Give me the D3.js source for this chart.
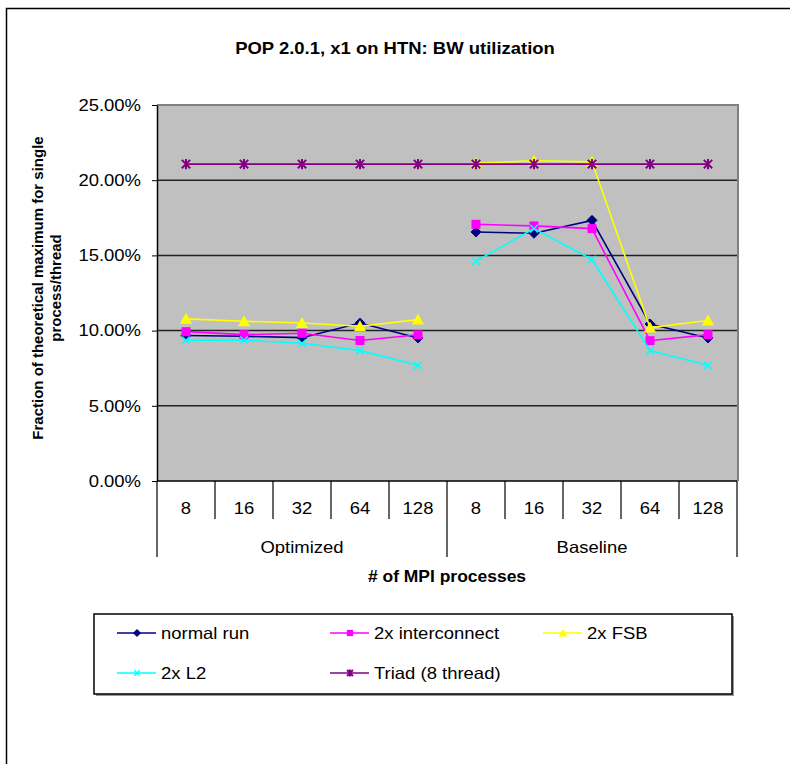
<!DOCTYPE html>
<html>
<head>
<meta charset="utf-8">
<script src="https://cdn.jsdelivr.net/npm/d3@7"></script>
<style>
  body { margin: 0; background: #fff; }
  text { font-family: "Liberation Sans", Arial, sans-serif; }
</style>
</head>
<body>
<script>
// categories
let groups = ["Optimized", "Baseline"];
let procs = ["8", "16", "32", "64", "128"];
// series values (percent)
let normalRun      = [9.67, 9.62, 9.53, 10.50, 9.51, 16.56, 16.47, 17.33, 10.44, 9.51];
let interconnect2x = [9.93, 9.73, 9.82, 9.34, 9.72, 17.07, 16.96, 16.78, 9.33, 9.73];
let fsb2x          = [10.78, 10.62, 10.51, 10.29, 10.73, 21.13, 21.29, 21.22, 10.20, 10.67];
let l2x            = [9.36, 9.36, 9.16, 8.67, 7.69, 14.62, 16.78, 14.73, 8.67, 7.69];
let triad          = [21.07, 21.07, 21.07, 21.07, 21.07, 21.07, 21.07, 21.07, 21.07, 21.07];
let yTicks = [0, 5, 10, 15, 20, 25];

let series = [
    {name: "normal run", values: normalRun, color: "#000080", marker: "diamond", split: true},
    {name: "2x interconnect", values: interconnect2x, color: "#FF00FF", marker: "square", split: true},
    {name: "2x FSB", values: fsb2x, color: "#FFFF00", marker: "triangle", split: true},
    {name: "2x L2", values: l2x, color: "#00FFFF", marker: "x", split: true},
    {name: "Triad (8 thread)", values: triad, color: "#800080", marker: "star", split: false}
];

let cats = [];
groups.forEach(g => procs.forEach(p => cats.push(g + "|" + p)));

let plot = {left: 157, right: 737, top: 105, bottom: 481};
let sx = 1.12; // text in the picture is a little wide

function place(x, y) {
    return "translate(" + x + "," + y + ") scale(" + sx + ",1)";
}

let svg = d3.select("body").append("svg")
    .attr("width", 790)
    .attr("height", 764);

svg.append("rect").attr("width", 790).attr("height", 764).attr("fill", "#fff");
// outer chart border (runs off right and bottom)
svg.append("rect")
    .attr("x", 6.5).attr("y", 8.5)
    .attr("width", 820).attr("height", 820)
    .attr("fill", "none").attr("stroke", "#000").attr("stroke-width", 1.5);

let x = d3.scaleBand().domain(cats).range([plot.left, plot.right]);
let y = d3.scaleLinear().domain([0, 25]).range([plot.bottom, plot.top]);
let bw = x.bandwidth();

// title
svg.append("text")
    .attr("transform", place(395, 54))
    .attr("text-anchor", "middle")
    .style("font-size", "16.5px").style("font-weight", "bold")
    .text("POP 2.0.1, x1 on HTN: BW utilization");

// plot background
svg.append("rect")
    .attr("x", plot.left).attr("y", plot.top)
    .attr("width", plot.right - plot.left).attr("height", plot.bottom - plot.top)
    .attr("fill", "#C0C0C0");
svg.append("line")
    .attr("x1", plot.left).attr("x2", plot.right + 2)
    .attr("y1", y(25)).attr("y2", y(25))
    .attr("stroke", "#808080").attr("stroke-width", 2);
svg.append("line")
    .attr("x1", plot.right + 1).attr("x2", plot.right + 1)
    .attr("y1", plot.top).attr("y2", plot.bottom)
    .attr("stroke", "#808080").attr("stroke-width", 2);

// gridlines
svg.selectAll(".grid")
    .data(yTicks.filter(d => d > 0 && d < 25))
    .enter().append("line")
    .attr("x1", plot.left).attr("x2", plot.right)
    .attr("y1", d => y(d)).attr("y2", d => y(d))
    .attr("stroke", "#222").attr("stroke-width", 1.5);

// y axis
let yAxis = svg.append("g")
    .attr("transform", "translate(" + plot.left + ",0)")
    .call(d3.axisLeft(y).tickValues(yTicks).tickSize(5).tickSizeOuter(0)
        .tickPadding(9.3).tickFormat(d => d.toFixed(2) + "%"));
yAxis.select(".domain").attr("stroke", "#000").attr("stroke-width", 1.5);
yAxis.selectAll(".tick line").attr("stroke", "#000");
yAxis.selectAll("text")
    .attr("transform", "scale(" + sx + ",1)")
    .style("font-size", "16.5px").attr("fill", "#000");

// y title
let yTitle = svg.append("text")
    .attr("transform", "translate(43,288) rotate(-90)")
    .attr("text-anchor", "middle")
    .style("font-size", "15px").style("font-weight", "bold");
yTitle.append("tspan").attr("x", 0).attr("dy", 0).text("Fraction of theoretical maximum for single");
yTitle.append("tspan").attr("x", 0).attr("dy", 18).text("process/thread");

// x axis
svg.append("line")
    .attr("x1", plot.left).attr("x2", plot.right)
    .attr("y1", plot.bottom).attr("y2", plot.bottom)
    .attr("stroke", "#000").attr("stroke-width", 1.5);
let seps = d3.range(cats.length + 1);
svg.selectAll(".sep")
    .data(seps)
    .enter().append("line")
    .attr("x1", d => plot.left + d * bw).attr("x2", d => plot.left + d * bw)
    .attr("y1", plot.bottom)
    .attr("y2", d => (d % procs.length === 0) ? 557 : 519)
    .attr("stroke", "#000").attr("stroke-width", 1.2);
svg.selectAll(".catLabel")
    .data(cats)
    .enter().append("text")
    .attr("transform", d => place(x(d) + bw / 2, 514))
    .attr("text-anchor", "middle")
    .style("font-size", "16.5px")
    .text(d => d.split("|")[1]);
svg.selectAll(".groupLabel")
    .data(groups)
    .enter().append("text")
    .attr("transform", (d, i) => place(plot.left + (i + 0.5) * bw * procs.length, 553))
    .attr("text-anchor", "middle")
    .style("font-size", "16.5px")
    .text(d => d);
svg.append("text")
    .attr("transform", place(447, 582))
    .attr("text-anchor", "middle")
    .style("font-size", "15.6px").style("font-weight", "bold")
    .text("# of MPI processes");

// markers
function drawMarker(g, type, color, s) {
    if (type === "diamond") {
        g.append("path").attr("d", "M0," + (-s) + "L" + s + ",0L0," + s + "L" + (-s) + ",0Z")
            .attr("fill", color).attr("stroke", color);
    } else if (type === "square") {
        g.append("rect").attr("x", -s).attr("y", -s).attr("width", 2 * s).attr("height", 2 * s)
            .attr("fill", color);
    } else if (type === "triangle") {
        g.append("path").attr("d", "M0," + (-s * 1.1) + "L" + (s * 1.1) + "," + (s * 0.9) + "L" + (-s * 1.1) + "," + (s * 0.9) + "Z")
            .attr("fill", color);
    } else if (type === "x") {
        g.append("path").attr("d", "M" + (-s) + "," + (-s) + "L" + s + "," + s + "M" + (-s) + "," + s + "L" + s + "," + (-s))
            .attr("stroke", color).attr("stroke-width", 1.5);
    } else if (type === "star") {
        g.append("path").attr("d", "M" + (-s) + "," + (-s) + "L" + s + "," + s + "M" + (-s) + "," + s + "L" + s + "," + (-s) +
            "M0," + (-s * 1.2) + "L0," + (s * 1.2))
            .attr("stroke", color).attr("stroke-width", 2);
    }
}

let markerSize = {diamond: 5, square: 4.5, triangle: 5.5, x: 3.8, star: 4.2};

let line = d3.line()
    .x(d => x(d.cat) + bw / 2)
    .y(d => y(d.v));

series.forEach(function(s) {
    let g = svg.append("g");
    let pts = s.values.map((v, i) => ({cat: cats[i], v: v}));
    // the four runs are not joined across the two groups
    let parts = s.split ? [pts.slice(0, procs.length), pts.slice(procs.length)] : [pts];
    parts.forEach(function(p) {
        g.append("path")
            .attr("d", line(p))
            .attr("fill", "none")
            .attr("stroke", s.color)
            .attr("stroke-width", 1.6);
    });
    pts.forEach(function(d) {
        let m = g.append("g")
            .attr("transform", "translate(" + (x(d.cat) + bw / 2) + "," + y(d.v) + ")");
        drawMarker(m, s.marker, s.color, markerSize[s.marker]);
    });
});

// legend
svg.append("rect")
    .attr("x", 96).attr("y", 616).attr("width", 638).attr("height", 80)
    .attr("fill", "#999");
svg.append("rect")
    .attr("x", 94).attr("y", 614).attr("width", 638).attr("height", 80)
    .attr("fill", "#fff").attr("stroke", "#000").attr("stroke-width", 1.5);

let legendPos = [[117, 633], [330, 633], [543, 633], [117, 673], [330, 673]];
series.forEach(function(s, i) {
    let lx = legendPos[i][0], ly = legendPos[i][1];
    let g = svg.append("g").attr("transform", "translate(" + lx + "," + ly + ")");
    g.append("line").attr("x1", 0).attr("x2", 39).attr("y1", 0).attr("y2", 0)
        .attr("stroke", s.color).attr("stroke-width", 1.6);
    let m = g.append("g").attr("transform", "translate(20,0)");
    drawMarker(m, s.marker, s.color, markerSize[s.marker] * 0.7);
    g.append("text")
        .attr("transform", place(44, 6))
        .style("font-size", "16.5px")
        .text(s.name);
});
</script>
</body>
</html>
